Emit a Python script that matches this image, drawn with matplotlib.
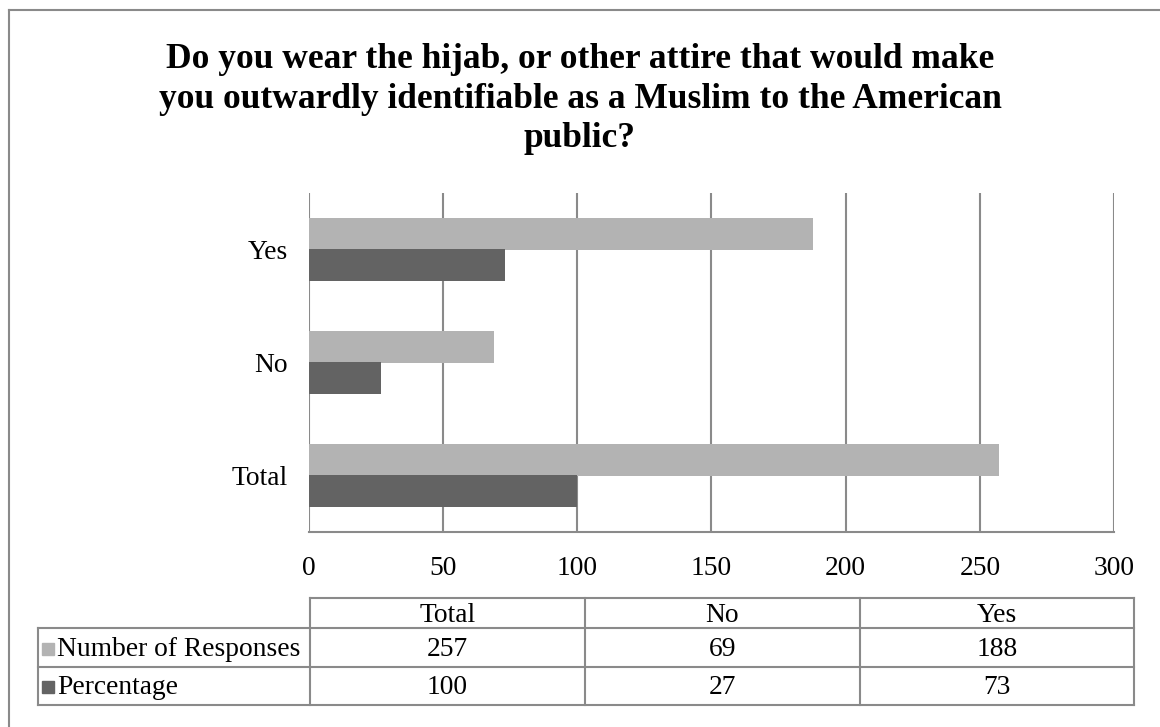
import matplotlib
matplotlib.use("Agg")
import matplotlib.pyplot as plt
from matplotlib.lines import Line2D
from matplotlib.patches import Rectangle
import numpy as np

plt.rcParams["font.family"] = ["Liberation Serif", "DejaVu Serif"]

# data
categories = ["Total", "No", "Yes"]
responses = [257, 69, 188]
percentage = [100, 27, 73]
series_names = ["Number of Responses", "Percentage"]
x_ticks = [0, 50, 100, 150, 200, 250, 300]

title = ("Do you wear the hijab, or other attire that would make\n"
         "you outwardly identifiable as a Muslim to the American\n"
         "public?")

W, H = 1160, 727
light = "#b3b3b3"
dark = "#636363"
line_c = "#8a8a8a"


def fx(x):
    return x / W


def fy(y):
    return 1 - y / H


fig = plt.figure(figsize=(W / 100, H / 100), dpi=100)

# outer frame (runs off the right and bottom edges)
fig.add_artist(Line2D([fx(9), fx(9)], [fy(10), fy(H + 5)], color=line_c, lw=1.5))
fig.add_artist(Line2D([fx(9), fx(W + 5)], [fy(10), fy(10)], color=line_c, lw=1.5))

fig.text(0.5, fy(43), title, ha="center", va="top", fontsize=25.5,
         fontweight="bold", linespacing=1.26)

ax = fig.add_axes([fx(309), fy(532), fx(1114) - fx(309), fy(193) - fy(532)])

y = np.arange(len(categories))
h = 0.283
ax.barh(y + h / 2, responses, height=h, color=light, zorder=3)
ax.barh(y - h / 2, percentage, height=h, color=dark, zorder=3)

ax.set_xlim(0, 300)
ax.set_ylim(-0.5, 2.5)
ax.set_xticks(x_ticks)
ax.set_yticks(y)
ax.set_yticklabels(categories)
for xv in x_ticks:
    ax.axvline(xv, color=line_c, lw=1.5, zorder=1)

for s in ["top", "right", "left"]:
    ax.spines[s].set_visible(False)
ax.spines["bottom"].set_color(line_c)
ax.spines["bottom"].set_linewidth(1.5)
ax.tick_params(axis="both", length=0, labelsize=19.8)
ax.tick_params(axis="x", pad=17)
ax.tick_params(axis="y", pad=15)

# data table
col_edges = [310, 585, 860, 1134]
row_edges = [598, 628, 667, 705]
left_edge = 38
lw = 1.5

fig.add_artist(Line2D([fx(col_edges[0]), fx(col_edges[-1])], [fy(row_edges[0])] * 2, color=line_c, lw=lw))
for yy in row_edges[1:]:
    fig.add_artist(Line2D([fx(left_edge), fx(col_edges[-1])], [fy(yy)] * 2, color=line_c, lw=lw))
for xx in col_edges:
    fig.add_artist(Line2D([fx(xx)] * 2, [fy(row_edges[0]), fy(row_edges[-1])], color=line_c, lw=lw))
fig.add_artist(Line2D([fx(left_edge)] * 2, [fy(row_edges[1]), fy(row_edges[-1])], color=line_c, lw=lw))

for i, cat in enumerate(categories):
    cx = (col_edges[i] + col_edges[i + 1]) / 2
    fig.text(fx(cx), fy((row_edges[0] + row_edges[1]) / 2 + 2), cat,
             ha="center", va="center", fontsize=19.8)

rows = [responses, percentage]
colors = [light, dark]
for r, (name, vals, c) in enumerate(zip(series_names, rows, colors)):
    yc = (row_edges[r + 1] + row_edges[r + 2]) / 2
    fig.add_artist(Rectangle((fx(42), fy(yc + 7)), fx(12), 12 / H, color=c))
    fig.text(fx(57), fy(yc + 2), name, ha="left", va="center", fontsize=19.8)
    for i, v in enumerate(vals):
        cx = (col_edges[i] + col_edges[i + 1]) / 2
        fig.text(fx(cx), fy(yc + 2), str(v), ha="center", va="center", fontsize=19.8)

fig.savefig("out.png", dpi=100)
